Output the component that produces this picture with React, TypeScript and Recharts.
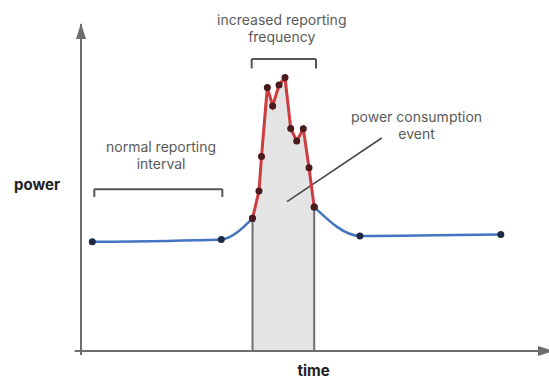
import React from 'react';
import { ComposedChart, Line, Area, XAxis, YAxis, ReferenceLine, ReferenceDot } from 'recharts';

// time (x) and power (y) readings, arbitrary units
const times = [2.41, 29.98, 36.65, 38.03, 38.57, 39.81, 40.96, 42.31, 43.59, 44.81, 46.09, 47.5, 48.72, 49.83, 59.6, 89.7];
const normalPower = [31.1, 31.8, 37.8, null, null, null, null, null, null, null, null, null, null, null, null, null];
const eventPower = [null, null, 37.8, 45.6, 55.4, 75.1, 69.8, 75.8, 77.9, 63.4, 59.8, 63.3, 52.2, 41.0, null, null];
const afterPower = [null, null, null, null, null, null, null, null, null, null, null, null, null, 41.0, 32.8, 33.2];

const TIME_DOMAIN: [number, number] = [-17.31, 100];
const POWER_DOMAIN: [number, number] = [-8.26, 100];

// bracket spans (time) and heights (power)
const normalBracket = { from: 2.84, to: 30.2, top: 46.1, tick: 43.9 };
const increasedBracket = { from: 36.47, to: 50.21, top: 83.2, tick: 80.5 };
const pointerLine = [{ t: 64.25, p: 60.68 }, { t: 44.02, p: 42.54 }];
const yAxisLine = [{ t: 0, p: -1.14 }, { t: 0, p: 93.16 }];
const xAxisLine = [{ t: -1.37, p: 0 }, { t: 100.85, p: 0 }];

const annotationBlocks = [
  { t: 42.9, p: 92.9, lines: ['increased reporting', 'frequency'], bold: false },
  { t: 17.1, p: 56.7, lines: ['normal reporting', 'interval'], bold: false },
  { t: 71.7, p: 65.2, lines: ['power consumption', 'event'], bold: false },
  { t: -9.4, p: 45.9, lines: ['power'], bold: true },
  { t: 49.7, p: -7.1, lines: ['time'], bold: true },
];

const data = times.map((t, i) => ({
  t,
  normal: normalPower[i],
  event: eventPower[i],
  after: afterPower[i],
}));

const eventStartIdx = eventPower.findIndex((v) => v !== null);
let eventEndIdx = eventStartIdx;
eventPower.forEach((v, i) => { if (v !== null) eventEndIdx = i; });

const AXIS = '#6e6e6e';
const BRACKET = '#555555';
const TEXT = '#5a5a5a';
const BLUE = '#4474bf';
const RED = '#cf3c40';

function bracketSegments(b: { from: number; to: number; top: number; tick: number }) {
  return [
    [{ x: b.from, y: b.tick }, { x: b.from, y: b.top }],
    [{ x: b.from, y: b.top }, { x: b.to, y: b.top }],
    [{ x: b.to, y: b.top }, { x: b.to, y: b.tick }],
  ];
}

export default function App() {
  const brackets = [...bracketSegments(normalBracket), ...bracketSegments(increasedBracket)];
  return (
    <div style={{ position: 'absolute', left: 0, top: 0, width: 549, height: 380, background: '#fff' }}>
      <ComposedChart width={549} height={380} data={data} margin={{ top: 0, right: 0, bottom: 0, left: 0 }}>
        <defs>
          <marker id="arrowHead" markerWidth={16} markerHeight={10} refX={15} refY={5} orient="auto" markerUnits="userSpaceOnUse">
            <path d="M0,0 L16,5 L0,10 Z" fill={AXIS} />
          </marker>
        </defs>
        <XAxis type="number" dataKey="t" domain={TIME_DOMAIN} allowDataOverflow hide />
        <YAxis type="number" domain={POWER_DOMAIN} allowDataOverflow hide />

        <Area
          type="linear"
          dataKey="event"
          fill="#e4e4e4"
          fillOpacity={1}
          stroke="none"
          baseValue={0}
          isAnimationActive={false}
          dot={false}
          activeDot={false}
        />
        <ReferenceLine
          segment={[{ x: times[eventStartIdx], y: 0 }, { x: times[eventStartIdx], y: eventPower[eventStartIdx] as number }]}
          stroke={AXIS}
          strokeWidth={2}
        />
        <ReferenceLine
          segment={[{ x: times[eventEndIdx], y: 0 }, { x: times[eventEndIdx], y: eventPower[eventEndIdx] as number }]}
          stroke={AXIS}
          strokeWidth={2}
        />

        <ReferenceLine
          segment={[{ x: yAxisLine[0].t, y: yAxisLine[0].p }, { x: yAxisLine[1].t, y: yAxisLine[1].p }]}
          stroke={AXIS}
          strokeWidth={2}
          markerEnd="url(#arrowHead)"
          ifOverflow="visible"
        />
        <ReferenceLine
          segment={[{ x: xAxisLine[0].t, y: xAxisLine[0].p }, { x: xAxisLine[1].t, y: xAxisLine[1].p }]}
          stroke={AXIS}
          strokeWidth={2}
          markerEnd="url(#arrowHead)"
          ifOverflow="visible"
        />

        {brackets.map((seg, i) => (
          <ReferenceLine key={'b' + i} segment={seg} stroke={BRACKET} strokeWidth={2} ifOverflow="visible" />
        ))}
        <ReferenceLine
          segment={[{ x: pointerLine[0].t, y: pointerLine[0].p }, { x: pointerLine[1].t, y: pointerLine[1].p }]}
          stroke="#4a4a4a"
          strokeWidth={1.6}
        />

        <Line
          type="monotone"
          dataKey="normal"
          stroke={BLUE}
          strokeWidth={2.5}
          dot={{ r: 3.5, fill: '#1e2a45', stroke: 'none' }}
          activeDot={false}
          connectNulls={false}
          isAnimationActive={false}
        />
        <Line
          type="monotone"
          dataKey="after"
          stroke={BLUE}
          strokeWidth={2.5}
          dot={{ r: 3.5, fill: '#1e2a45', stroke: 'none' }}
          activeDot={false}
          connectNulls={false}
          isAnimationActive={false}
        />
        <Line
          type="linear"
          dataKey="event"
          stroke={RED}
          strokeWidth={3}
          dot={{ r: 3.5, fill: '#4a1a1c', stroke: 'none' }}
          activeDot={false}
          connectNulls={false}
          isAnimationActive={false}
        />

        {annotationBlocks.map((a, i) => (
          <ReferenceDot
            key={'t' + i}
            x={a.t}
            y={a.p}
            r={1}
            ifOverflow="visible"
            shape={(props: any) => (
              <text
                x={props.cx}
                y={props.cy}
                textAnchor="middle"
                fontFamily="Inter, sans-serif"
                fontSize={a.bold ? 15 : 14}
                fontWeight={a.bold ? 700 : 400}
                fill={a.bold ? '#222' : TEXT}
              >
                {a.lines.map((line, j) => (
                  <tspan key={j} x={props.cx} dy={j === 0 ? 0 : 17}>
                    {line}
                  </tspan>
                ))}
              </text>
            )}
          />
        ))}
      </ComposedChart>
    </div>
  );
}
